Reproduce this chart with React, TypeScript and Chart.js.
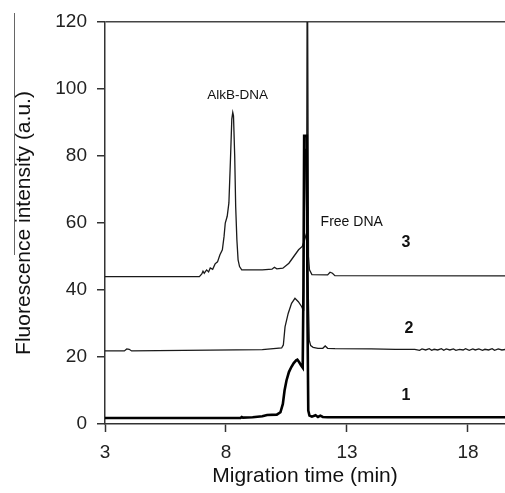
import React, { useEffect, useRef } from "react";
import { Chart, registerables } from "chart.js";

Chart.register(...registerables);

// Trace 1 (bottom, thick black)
const time1 = [3, 8.6, 8.65, 8.7, 9.1, 9.5, 9.7, 10.1, 10.25, 10.35, 10.42, 10.5, 10.6, 10.7, 10.8, 10.9, 10.95, 11.02, 11.1, 11.17, 11.2, 11.23, 11.34, 11.37, 11.4, 11.45, 11.55, 11.7, 11.8, 11.9, 12.0, 12.2, 19.6];
const signal1 = [1.8, 1.8, 2.1, 1.9, 2.0, 2.3, 2.7, 2.8, 3.5, 6, 10, 13, 15.5, 17, 18.2, 19, 19.2, 18.5, 17.5, 16.8, 40, 86, 86, 30, 4, 2.5, 2.2, 2.6, 2.1, 2.5, 2.1, 2.0, 2.0];

// Trace 2 (middle)
const time2 = [3, 3.8, 3.9, 4.0, 4.1, 9.5, 10.3, 10.37, 10.44, 10.57, 10.71, 10.85, 10.99, 11.13, 11.19, 11.21, 11.28, 11.44, 11.5, 11.6, 11.8, 12.0, 12.1, 12.2, 12.5, 14.0, 15.0, 15.8, 16.0, 16.1, 16.25, 16.4, 16.5, 16.6, 16.75, 16.9, 17.0, 17.1, 17.25, 17.4, 17.5, 17.65, 17.8, 17.9, 18.05, 18.2, 18.3, 18.45, 18.6, 18.7, 18.85, 19.0, 19.1, 19.25, 19.4, 19.6];
const signal2 = [21.8, 21.8, 22.4, 22.3, 21.8, 22.2, 22.7, 23.6, 29, 33, 36, 37.5, 36.5, 35, 34, 82, 82, 25, 23.4, 22.9, 22.6, 22.6, 23.3, 22.6, 22.5, 22.4, 22.3, 22.3, 22.0, 22.4, 22.1, 22.5, 22.0, 22.3, 22.1, 22.5, 22.0, 22.4, 22.1, 22.4, 22.0, 22.3, 22.1, 22.5, 22.0, 22.4, 22.1, 22.4, 22.0, 22.3, 22.1, 22.5, 22.0, 22.4, 22.1, 22.3];

// Trace 3 (top)
const time3 = [3, 6.9, 7.0, 7.05, 7.1, 7.2, 7.28, 7.35, 7.45, 7.55, 7.65, 7.75, 7.85, 7.92, 7.97, 8.05, 8.12, 8.18, 8.24, 8.28, 8.31, 8.36, 8.4, 8.45, 8.5, 8.56, 8.65, 9.5, 9.9, 10.0, 10.1, 10.35, 10.6, 10.8, 11.0, 11.15, 11.25, 11.33, 11.36, 11.38, 11.41, 11.45, 11.55, 12.2, 12.3, 12.4, 12.5, 19.6];
const signal3 = [44, 44, 44.8, 45.6, 45.0, 46.0, 45.4, 46.6, 46.2, 47.8, 48.4, 50.5, 52, 56, 60, 62, 66, 78, 91, 93, 92, 80, 65, 55, 49, 47, 46, 46, 46.2, 46.8, 46.3, 46.5, 48, 50, 52, 53, 55, 57, 150, 150, 50, 46, 44.6, 44.5, 45.3, 45.0, 44.3, 44.2];

const xTicks = [3, 8, 13, 18];
const yTicks = [0, 20, 40, 60, 80, 100, 120];

const annotationTexts = ["AlkB-DNA", "Free DNA", "3", "2", "1"];
const annotationX = [8.48, 11.91, 15.44, 15.56, 15.44];
const annotationY = [98.2, 60.3, 54.3, 28.4, 8.4];

const FONT = "'Liberation Sans', Arial, sans-serif";

const toPoints = (xs: number[], ys: number[]) => xs.map((x, i) => ({ x, y: ys[i] }));

const annotationPlugin = {
  id: "annotations",
  afterDatasetsDraw(chart: any) {
    const { ctx, scales } = chart;
    ctx.save();
    ctx.fillStyle = "#111";
    ctx.textBaseline = "middle";
    annotationTexts.forEach((t, i) => {
      const px = scales.x.getPixelForValue(annotationX[i]);
      const py = scales.y.getPixelForValue(annotationY[i]);
      if (i === 0) {
        ctx.font = `13.5px ${FONT}`;
        ctx.textAlign = "center";
      } else if (i === 1) {
        ctx.font = `14px ${FONT}`;
        ctx.textAlign = "left";
      } else {
        ctx.font = `bold 16px ${FONT}`;
        ctx.textAlign = "center";
      }
      ctx.fillText(t, px, py);
    });
    // stray vertical rule at the left edge of the figure
    ctx.strokeStyle = "#666";
    ctx.lineWidth = 1;
    ctx.beginPath();
    ctx.moveTo(14.5, 13);
    ctx.lineTo(14.5, 255);
    ctx.stroke();
    ctx.restore();
  },
};

export default function App() {
  const ref = useRef<HTMLCanvasElement | null>(null);
  useEffect(() => {
    document.body.style.margin = "0";
    if (!ref.current) return;
    const chart = new Chart(ref.current, {
      type: "line",
      data: {
        datasets: [
          {
            data: toPoints(time1, signal1),
            borderColor: "#000",
            borderWidth: 2.6,
            pointRadius: 0,
            tension: 0,
          },
          {
            data: toPoints(time2, signal2),
            borderColor: "#1a1a1a",
            borderWidth: 1.3,
            pointRadius: 0,
            tension: 0,
          },
          {
            data: toPoints(time3, signal3),
            borderColor: "#1a1a1a",
            borderWidth: 1.3,
            pointRadius: 0,
            tension: 0,
          },
        ],
      },
      options: {
        animation: false,
        responsive: true,
        maintainAspectRatio: false,
        layout: { padding: { top: 22, right: 0, left: 0, bottom: 0 } },
        plugins: { legend: { display: false }, tooltip: { enabled: false } },
        scales: {
          x: {
            type: "linear",
            min: 3,
            max: 19.53,
            afterBuildTicks: (s: any) => {
              s.ticks = xTicks.map((v) => ({ value: v }));
            },
            afterFit: (s: any) => {
              s.height = 69;
            },
            ticks: {
              color: "#222",
              font: { family: FONT, size: 19 },
              padding: 9,
              maxRotation: 0,
              autoSkip: false,
            },
            grid: {
              color: "rgba(0,0,0,0)",
              tickColor: "#333",
              tickLength: 8,
              tickWidth: 1.5,
            },
            border: { color: "#333", width: 1.5 },
            title: {
              display: true,
              text: "Migration time (min)",
              color: "#111",
              font: { family: FONT, size: 21 },
              padding: { top: 0, bottom: 4 },
            },
          },
          y: {
            min: 0,
            max: 120,
            afterBuildTicks: (s: any) => {
              s.ticks = yTicks.map((v) => ({ value: v }));
            },
            afterFit: (s: any) => {
              s.width = 105;
            },
            ticks: {
              color: "#222",
              font: { family: FONT, size: 19 },
              padding: 10,
            },
            grid: {
              color: (c: any) => (c.tick && c.tick.value === 120 ? "#444" : "rgba(0,0,0,0)"),
              lineWidth: 1.5,
              tickColor: "#333",
              tickLength: 8,
              tickWidth: 1.5,
            },
            border: { color: "#333", width: 1.5 },
            title: {
              display: true,
              text: "Fluorescence intensity (a.u.)",
              color: "#111",
              font: { family: FONT, size: 21 },
              padding: { top: 12, bottom: 0 },
            },
          },
        },
      },
      plugins: [annotationPlugin],
    });
    return () => chart.destroy();
  }, []);
  return (
    <div style={{ position: "relative", width: 505, height: 493 }}>
      <canvas ref={ref} />
    </div>
  );
}
